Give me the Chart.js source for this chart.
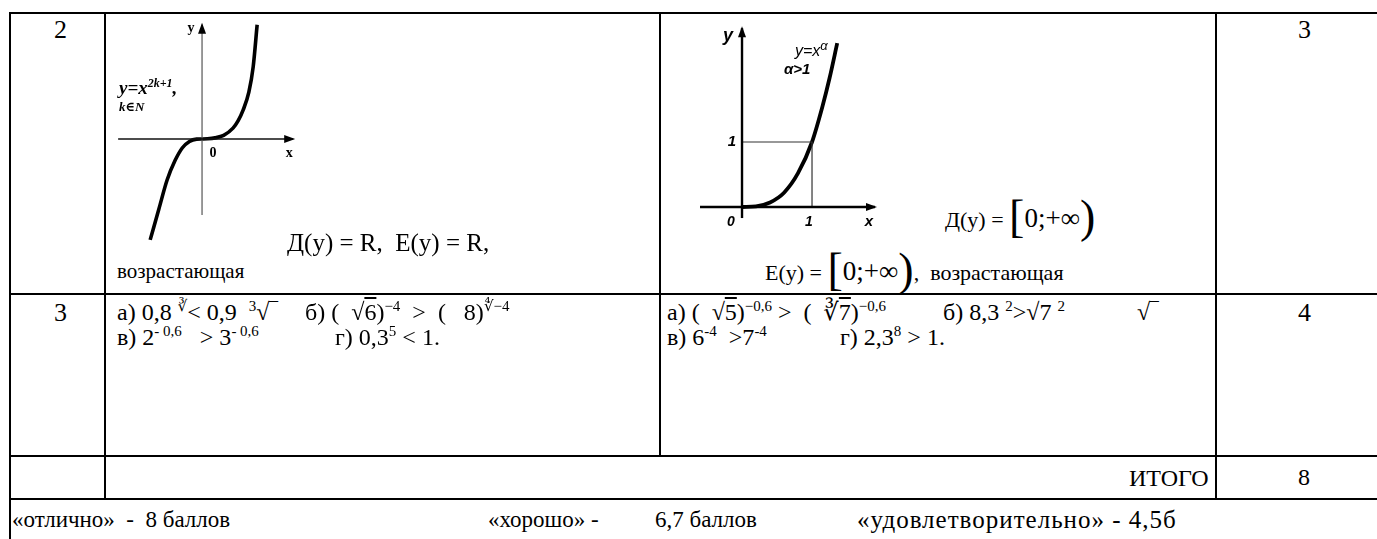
<!DOCTYPE html>
<html>
<head>
<meta charset="utf-8">
<script src="https://cdn.jsdelivr.net/npm/chart.js@4.4.1/dist/chart.umd.min.js"></script>
<style>
  body { margin: 0; width: 1377px; height: 539px; background: #fff; overflow: hidden; position: relative;
         font-family: 'Liberation Serif', 'DejaVu Serif', serif; color: #000; }
  .h { position: absolute; height: 2px; background: #000; }
  .v { position: absolute; width: 2px; background: #000; }
  .t { position: absolute; font-size: 22px; white-space: nowrap; line-height: 1; }
  .t sup { font-size: 15px; vertical-align: 9px; line-height: 0; }
  .r2 { font-size: 24px; }
  .m { font-size: 27px; }
  .big { font-size: 46px; vertical-align: -5px; line-height: 0; }
  canvas { position: absolute; }
  .f1 { position: absolute; font-style: italic; font-weight: bold; white-space: nowrap; line-height: 1; }
  .f2 { position: absolute; font-family: 'Liberation Sans', sans-serif; font-style: italic; white-space: nowrap; line-height: 1; }
</style>
</head>
<body>
<!-- сетка таблицы -->
<div class="h" style="left:10px;top:12px;width:1370px"></div>
<div class="h" style="left:10px;top:293px;width:1370px"></div>
<div class="h" style="left:10px;top:455px;width:1370px"></div>
<div class="h" style="left:10px;top:498px;width:1370px"></div>
<div class="v" style="left:9px;top:12px;height:527px"></div>
<div class="v" style="left:104px;top:12px;height:488px"></div>
<div class="v" style="left:659px;top:12px;height:445px"></div>
<div class="v" style="left:1215px;top:12px;height:488px"></div>

<canvas id="oddPower" width="188" height="240" style="left:112px;top:15px"></canvas>
<canvas id="alphaPower" width="200" height="210" style="left:690px;top:20px"></canvas>

<!-- строка 1 -->
<div class="t" style="left:54px;top:17px;font-size:26px">2</div>
<div class="t" style="left:1298px;top:17px;font-size:26px">3</div>
<div class="f1" style="left:119px;top:77px;font-size:19px">y=x<sup style="font-size:12px">2k+1</sup>,</div>
<div class="f1" style="left:119px;top:100px;font-size:13px">k∈N</div>
<div class="f2" style="left:795px;top:39px;font-size:16px">y=x<sup style="font-size:13px">α</sup></div>
<div class="f2" style="left:784px;top:61px;font-size:15px;font-weight:bold">α&gt;1</div>
<div class="t" style="left:287px;top:230px;font-size:25px">Д(y) = R,&nbsp; E(y) = R,</div>
<div class="t" style="left:117px;top:261px;font-size:21px">возрастающая</div>
<div class="t" style="left:945px;top:205px">Д(y) = <span class="big">[</span><span class="m">0;+∞</span><span class="big">)</span></div>
<div class="t" style="left:765px;top:258px">E(y) = <span class="big">[</span><span class="m">0;+∞</span><span class="big">)</span>,&nbsp;&nbsp;возрастающая</div>

<!-- строка 2 -->
<div class="t" style="left:54px;top:300px;font-size:26px">3</div>
<div class="t" style="left:1298px;top:300px;font-size:26px">4</div>
<div class="t r2" style="left:117px;top:300px">а) 0,8 <sup>∛</sup>&lt; 0,9 &nbsp;<sup>3</sup>√‾</div>
<div class="t r2" style="left:305px;top:300px">б) (&nbsp; √<span style="text-decoration:overline">6</span>)<sup>−4</sup>&nbsp; &gt;&nbsp; (&nbsp;&nbsp; 8)<sup>∜−4</sup></div>
<div class="t r2" style="left:117px;top:325px">в) 2<sup>- 0,6</sup>&nbsp; &nbsp;&gt; 3<sup>- 0,6</sup></div>
<div class="t r2" style="left:335px;top:325px">г) 0,3<sup>5</sup> &lt; 1.</div>
<div class="t r2" style="left:667px;top:300px">а) (&nbsp; √<span style="text-decoration:overline">5</span>)<sup>−0,6</sup> &gt;&nbsp; (&nbsp; ∛<span style="text-decoration:overline">7</span>)<sup>−0,6</sup></div>
<div class="t r2" style="left:943px;top:300px">б) 8,3 <sup>2</sup>&gt;√7 <sup>2</sup></div>
<div class="t r2" style="left:1137px;top:300px">√‾</div>
<div class="t r2" style="left:667px;top:325px">в) 6<sup>-4</sup> &nbsp;&gt;7<sup>-4</sup></div>
<div class="t r2" style="left:840px;top:325px">г) 2,3<sup>8</sup> &gt; 1.</div>

<!-- итого -->
<div class="t" style="left:1129px;top:466px;font-size:24px">ИТОГО</div>
<div class="t" style="left:1298px;top:465px;font-size:24px">8</div>

<!-- оценки -->
<div class="t" style="left:12px;top:508px;font-size:23px">«отлично» &nbsp;- &nbsp;8 баллов</div>
<div class="t" style="left:488px;top:508px;font-size:23px">«хорошо» -</div>
<div class="t" style="left:655px;top:508px;font-size:23px">6,7 баллов</div>
<div class="t" style="left:857px;top:507px;font-size:25px;letter-spacing:1px">«удовлетворительно» - 4,5б</div>

<script>
// y = x^(2k+1): точки
const oddX = [-1.44, -1.2, -0.97, -0.75, -0.55, -0.35, -0.15, 0, 0.15, 0.36, 0.6, 0.86, 1.0, 1.14, 1.3, 1.42, 1.53];
const oddY = [-2.8, -1.95, -1.14, -0.6, -0.25, -0.07, -0.005, 0, 0.005, 0.03, 0.1, 0.3, 0.5, 0.8, 1.3, 2.0, 3.17];
// y = x^α, α > 1
const alphaX = [0, 0.2, 0.4, 0.6, 0.8, 1.0, 1.15, 1.25, 1.36];
const alphaY = [0, 0.01, 0.07, 0.22, 0.52, 1.0, 1.55, 1.98, 2.52];
// оси и вспомогательные линии (в единицах графика)
const oddAxisX = [-2.33, 2.53];
const oddAxisY = [-2.11, 3.17];
const alphaAxisX = [-0.6, 1.9];
const alphaAxisY = [-0.17, 2.75];
const unitGuideX = [0, 1, 1];
const unitGuideY = [1, 1, 0];

const pts = (xs, ys) => xs.map((x, i) => ({ x: x, y: ys[i] }));

// стрелки на концах осей и подписи
const axisDecor = {
  id: 'axisDecor',
  afterDatasetsDraw(chart, args, opts) {
    const c = chart.ctx, sx = chart.scales.x, sy = chart.scales.y;
    c.save();
    c.fillStyle = '#000';
    opts.arrows.forEach(a => {
      const px = sx.getPixelForValue(a.x), py = sy.getPixelForValue(a.y);
      c.beginPath();
      if (a.dir === 'up') { c.moveTo(px, py - 2); c.lineTo(px - 4, py + 9); c.lineTo(px + 4, py + 9); }
      else { c.moveTo(px + 2, py); c.lineTo(px - 9, py - 4); c.lineTo(px - 9, py + 4); }
      c.closePath();
      c.fill();
    });
    opts.labels.forEach(l => {
      c.font = l.font;
      c.textAlign = 'center';
      c.textBaseline = 'middle';
      c.fillText(l.text, sx.getPixelForValue(l.x) + l.dx, sy.getPixelForValue(l.y) + l.dy);
    });
    c.restore();
  }
};

function makeGraph(id, datasets, lim, decor) {
  new Chart(document.getElementById(id), {
    type: 'line',
    data: { datasets: datasets },
    options: {
      responsive: false,
      animation: false,
      layout: { padding: 0 },
      plugins: { legend: { display: false }, tooltip: { enabled: false }, axisDecor: decor },
      elements: { point: { radius: 0 } },
      scales: {
        x: { type: 'linear', display: false, min: lim[0], max: lim[1] },
        y: { type: 'linear', display: false, min: lim[2], max: lim[3] }
      }
    },
    plugins: [axisDecor]
  });
}

makeGraph('oddPower', [
  { data: pts(oddAxisX, [0, 0]), borderColor: '#111', borderWidth: 1.6 },
  { data: pts([0, 0], oddAxisY), borderColor: '#555', borderWidth: 1.2 },
  { data: pts(oddX, oddY), borderColor: '#000', borderWidth: 3.6, cubicInterpolationMode: 'monotone' }
], [-2.5, 2.72, -3.22, 3.44], {
  arrows: [{ x: oddAxisX[1], y: 0, dir: 'right' }, { x: 0, y: oddAxisY[1], dir: 'up' }],
  labels: [
    { text: 'y', x: 0, y: oddAxisY[1], dx: -11, dy: 4, font: 'bold 14px "Liberation Serif"' },
    { text: '0', x: 0, y: 0, dx: 11, dy: 14, font: 'bold 14px "Liberation Serif"' },
    { text: 'x', x: oddAxisX[1], y: 0, dx: -4, dy: 14, font: 'bold 14px "Liberation Serif"' }
  ]
});

makeGraph('alphaPower', [
  { data: pts(alphaAxisX, [0, 0]), borderColor: '#000', borderWidth: 2.4 },
  { data: pts([0, 0], alphaAxisY), borderColor: '#000', borderWidth: 2.4 },
  { data: pts(unitGuideX, unitGuideY), borderColor: '#333', borderWidth: 1.2 },
  { data: pts(alphaX, alphaY), borderColor: '#000', borderWidth: 3.8, cubicInterpolationMode: 'monotone' }
], [-0.743, 2.114, -0.354, 2.877], {
  arrows: [{ x: alphaAxisX[1], y: 0, dir: 'right' }, { x: 0, y: alphaAxisY[1], dir: 'up' }],
  labels: [
    { text: 'y', x: 0, y: alphaAxisY[1], dx: -14, dy: 8, font: 'bold italic 18px "Liberation Sans"' },
    { text: '1', x: 0, y: 1, dx: -10, dy: 0, font: 'bold italic 15px "Liberation Sans"' },
    { text: '0', x: 0, y: 0, dx: -11, dy: 15, font: 'bold italic 14px "Liberation Sans"' },
    { text: '1', x: 1, y: 0, dx: -3, dy: 15, font: 'bold italic 14px "Liberation Sans"' },
    { text: 'x', x: alphaAxisX[1], y: 0, dx: -6, dy: 15, font: 'bold italic 15px "Liberation Sans"' }
  ]
});
</script>
</body>
</html>
